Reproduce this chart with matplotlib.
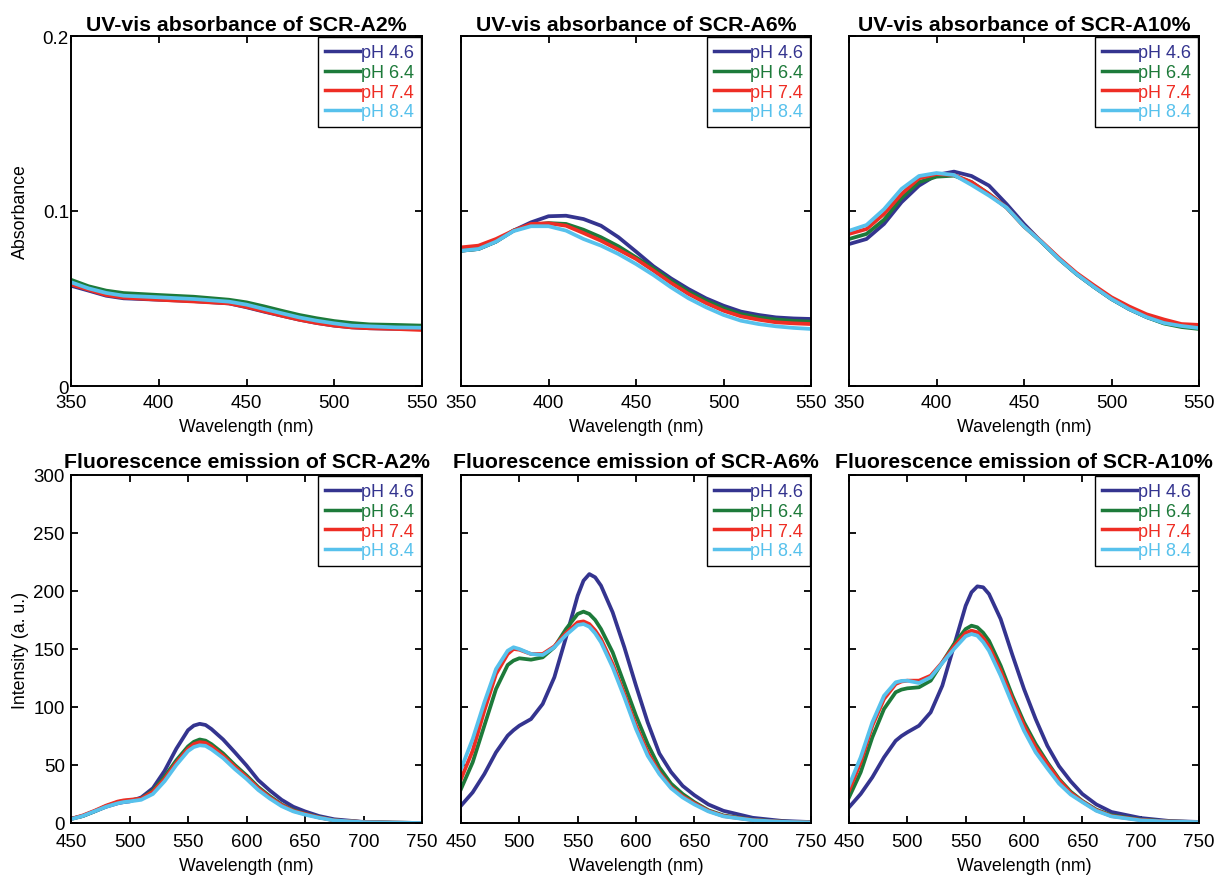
import matplotlib
matplotlib.use("Agg")
import matplotlib.pyplot as plt
from matplotlib.ticker import FixedLocator, FixedFormatter

plt.rcParams['font.family'] = ['Liberation Sans', 'DejaVu Sans']

labels = ["pH 4.6", "pH 6.4", "pH 7.4", "pH 8.4"]
colors = ["#34348f", "#1d7a3a", "#ee2d24", "#57c1ec"]

# ---------- UV-vis absorbance ----------
uv_x1 = [350, 360, 370, 380, 400, 420, 440, 450, 460, 470, 480, 490, 500, 510, 520, 535, 550]
uv_a2_ph46 = [0.0573, 0.0545, 0.0516, 0.0501, 0.0493, 0.0485, 0.0472, 0.0450, 0.0425, 0.0402, 0.0379, 0.0360, 0.0345, 0.0335, 0.0330, 0.0327, 0.0325]
uv_a2_ph64 = [0.0607, 0.0570, 0.0545, 0.0531, 0.0520, 0.0510, 0.0493, 0.0478, 0.0455, 0.0430, 0.0406, 0.0387, 0.0371, 0.0360, 0.0352, 0.0349, 0.0345]
uv_a2_ph74 = [0.0580, 0.0550, 0.0520, 0.0505, 0.0493, 0.0483, 0.0472, 0.0452, 0.0427, 0.0402, 0.0379, 0.0360, 0.0345, 0.0335, 0.0330, 0.0326, 0.0320]
uv_a2_ph84 = [0.0593, 0.0558, 0.0532, 0.0516, 0.0507, 0.0497, 0.0482, 0.0465, 0.0440, 0.0416, 0.0392, 0.0373, 0.0358, 0.0345, 0.0341, 0.0335, 0.0333]

uv_x = [350, 360, 370, 380, 390, 400, 410, 420, 430, 440, 450, 460, 470, 480, 490, 500, 510, 520, 530, 540, 550]
uv_a6_ph46 = [0.0773, 0.0783, 0.0825, 0.0888, 0.0935, 0.0970, 0.0973, 0.0954, 0.0916, 0.0850, 0.0768, 0.0684, 0.0615, 0.0554, 0.0501, 0.0459, 0.0425, 0.0406, 0.0392, 0.0386, 0.0383]
uv_a6_ph64 = [0.0773, 0.0783, 0.0825, 0.0888, 0.0920, 0.0931, 0.0926, 0.0893, 0.0850, 0.0798, 0.0735, 0.0672, 0.0602, 0.0539, 0.0488, 0.0444, 0.0411, 0.0392, 0.0380, 0.0372, 0.0368]
uv_a6_ph74 = [0.0792, 0.0802, 0.0840, 0.0888, 0.0926, 0.0930, 0.0916, 0.0874, 0.0830, 0.0779, 0.0726, 0.0659, 0.0589, 0.0526, 0.0474, 0.0430, 0.0398, 0.0379, 0.0364, 0.0358, 0.0354]
uv_a6_ph84 = [0.0773, 0.0783, 0.0825, 0.0885, 0.0913, 0.0913, 0.0888, 0.0840, 0.0802, 0.0754, 0.0697, 0.0634, 0.0564, 0.0501, 0.0450, 0.0406, 0.0373, 0.0354, 0.0341, 0.0332, 0.0326]

uv_a10_ph46 = [0.0811, 0.0840, 0.0926, 0.1050, 0.1145, 0.1206, 0.1225, 0.1200, 0.1145, 0.1040, 0.0926, 0.0823, 0.0726, 0.0640, 0.0566, 0.0497, 0.0440, 0.0394, 0.0360, 0.0343, 0.0331]
uv_a10_ph64 = [0.0840, 0.0869, 0.0950, 0.1074, 0.1165, 0.1196, 0.1202, 0.1165, 0.1097, 0.1020, 0.0912, 0.0823, 0.0726, 0.0640, 0.0566, 0.0497, 0.0440, 0.0394, 0.0357, 0.0337, 0.0326]
uv_a10_ph74 = [0.0869, 0.0897, 0.0983, 0.1097, 0.1187, 0.1211, 0.1206, 0.1165, 0.1097, 0.1020, 0.0912, 0.0826, 0.0732, 0.0646, 0.0575, 0.0507, 0.0455, 0.0410, 0.0380, 0.0354, 0.0349]
uv_a10_ph84 = [0.0887, 0.0920, 0.1010, 0.1126, 0.1200, 0.1217, 0.1206, 0.1149, 0.1088, 0.1020, 0.0912, 0.0823, 0.0726, 0.0640, 0.0566, 0.0497, 0.0440, 0.0394, 0.0360, 0.0343, 0.0331]

# ---------- Fluorescence emission ----------
fl_x = [450, 460, 470, 480, 490, 495, 500, 510, 520, 530, 540, 550, 555, 560, 565, 570,
        580, 590, 600, 610, 620, 630, 640, 650, 662, 675, 700, 725, 750]
fl_a2_ph46 = [3.7, 6, 10, 14, 17, 18, 18.6, 22, 30, 45, 64, 80, 84, 85.5, 84.5, 81,
              72, 61, 49.6, 37, 28, 20, 14, 10, 6, 3.2, 0.9, 0.3, 0]
fl_a2_ph64 = [3.5, 6, 10, 14.5, 18, 19, 19.5, 21, 28, 40, 54, 66, 70, 72, 71, 68,
              60, 50, 41, 31, 23, 16, 11, 8, 5, 2.3, 0.8, 0.3, 0]
fl_a2_ph74 = [3.5, 6.5, 10.5, 15, 18.5, 19.5, 20, 21, 27, 38, 52, 64, 68, 69.7, 69, 66,
              58, 48.5, 39.6, 30, 22, 15.5, 10.5, 7.8, 4.8, 2.3, 0.8, 0.3, 0]
fl_a2_ph84 = [3.3, 6, 10, 14, 17, 18, 18.6, 20, 25, 36, 50, 62, 65.5, 67, 66.5, 63.5,
              56, 46.5, 38, 28.5, 21, 14.5, 10, 7.2, 4.5, 2.2, 0.7, 0.3, 0]

fl_a6_ph46 = [14.9, 26.4, 42.2, 60.9, 75.3, 80, 83.9, 89.6, 102.6, 125.6, 160, 196, 208.9, 214.6, 211.8, 204.6,
              181.6, 151.5, 118.4, 86.8, 60, 44, 32, 24, 16, 10.5, 4.5, 1.8, 0.8]
fl_a6_ph64 = [29.3, 52.3, 83.9, 115.5, 136.2, 140, 142, 140.8, 142.8, 151.5, 167.2, 180.2, 182.2, 180.2, 175, 167.2,
              147.1, 119.8, 92.5, 68.1, 48, 34, 25, 18, 11, 6.5, 2.8, 1.2, 0.6]
fl_a6_ph74 = [37.9, 62.3, 96.8, 128.4, 145.7, 150, 149.4, 145.7, 145.7, 152.3, 163.8, 173, 173.8, 171.5, 166, 158.6,
              137, 111.2, 83.9, 60.9, 43.7, 31, 23, 17, 10.5, 6, 2.6, 1.1, 0.5]
fl_a6_ph84 = [46.5, 72.4, 104, 132.7, 148.5, 151.5, 150, 145.7, 144.8, 151.5, 162, 170.7, 171.5, 169.2, 163.5, 155.8,
              134.2, 108.4, 81, 58, 42.2, 30, 22, 16, 10, 5.7, 2.4, 1, 0.5]

fl_a10_ph46 = [13.5, 25, 39.4, 56.6, 70.9, 75, 78.2, 83.9, 95.4, 118.4, 152.8, 187.3, 198.9, 204, 203.2, 197.4,
               175.8, 145, 115.5, 89.6, 66.6, 49, 36, 25, 16, 9.5, 4.3, 1.7, 0.9]
fl_a10_ph64 = [22.1, 43.7, 73.9, 98.3, 112.7, 115, 116.1, 117, 122.7, 138.5, 154.3, 167.2, 170.1, 168.7, 164, 157.1,
               135.6, 109.7, 86.8, 68.1, 52.3, 38, 27, 19, 11.5, 6.6, 2.9, 1.3, 0.8]
fl_a10_ph74 = [27.8, 52.3, 83.9, 106.9, 119.8, 122, 122.7, 122.7, 127, 138.5, 152.3, 163.8, 165.8, 164.4, 159.5, 152.3,
               131.3, 106.9, 83.9, 65.3, 50.9, 37, 26, 18.6, 11, 6, 2.6, 1.2, 0.8]
fl_a10_ph84 = [32.2, 56.6, 86.8, 109.7, 121.3, 122.5, 122.7, 120.7, 125.6, 137.9, 150, 161, 162.9, 161.5, 156, 148.5,
               127, 102.6, 79.6, 60.9, 47.1, 34, 24.5, 18, 10.5, 5.7, 2.3, 1.1, 0.8]

uv_xticks = [350, 400, 450, 500, 550]
uv_yticks = [0, 0.1, 0.2]
uv_yticklabels = ["0", "0.1", "0.2"]
fl_xticks = [450, 500, 550, 600, 650, 700, 750]
fl_yticks = [0, 50, 100, 150, 200, 250, 300]

panels = [
    ("UV-vis absorbance of SCR-A2%", uv_x1, [uv_a2_ph46, uv_a2_ph64, uv_a2_ph74, uv_a2_ph84], "uv"),
    ("UV-vis absorbance of SCR-A6%", uv_x, [uv_a6_ph46, uv_a6_ph64, uv_a6_ph74, uv_a6_ph84], "uv"),
    ("UV-vis absorbance of SCR-A10%", uv_x, [uv_a10_ph46, uv_a10_ph64, uv_a10_ph74, uv_a10_ph84], "uv"),
    ("Fluorescence emission of SCR-A2%", fl_x, [fl_a2_ph46, fl_a2_ph64, fl_a2_ph74, fl_a2_ph84], "fl"),
    ("Fluorescence emission of SCR-A6%", fl_x, [fl_a6_ph46, fl_a6_ph64, fl_a6_ph74, fl_a6_ph84], "fl"),
    ("Fluorescence emission of SCR-A10%", fl_x, [fl_a10_ph46, fl_a10_ph64, fl_a10_ph74, fl_a10_ph84], "fl"),
]

W, H = 1217, 878
fig = plt.figure(figsize=(W / 100, H / 100), dpi=100)
lefts = [71, 461, 849]
widths = [351, 350, 350]
rows = [(37, 387), (476, 824)]

for i, (title, x, series, kind) in enumerate(panels):
    r, c = divmod(i, 3)
    top, bot = rows[r]
    ax = fig.add_axes([lefts[c] / W, 1 - bot / H, widths[c] / W, (bot - top) / H])
    for y, col, lab in zip(series, colors, labels):
        ax.plot(x, y, color=col, lw=2.7, label=lab, solid_joinstyle='round')
    if kind == "uv":
        ax.set_xlim(350, 550)
        ax.set_ylim(0, 0.2)
        ax.xaxis.set_major_locator(FixedLocator(uv_xticks))
        ax.yaxis.set_major_locator(FixedLocator(uv_yticks))
        ax.yaxis.set_major_formatter(FixedFormatter(uv_yticklabels))
        if c == 0:
            ax.set_ylabel("Absorbance", fontsize=12.8)
            ax.yaxis.set_label_coords(-0.119, 0.5)
        tpad = 4
        ypad, xpad = 1.5, 6
        xl_y = -0.0914
    else:
        ax.set_xlim(450, 750)
        ax.set_ylim(0, 300)
        ax.xaxis.set_major_locator(FixedLocator(fl_xticks))
        ax.yaxis.set_major_locator(FixedLocator(fl_yticks))
        if c == 0:
            ax.set_ylabel("Intensity (a. u.)", fontsize=12.8)
            ax.yaxis.set_label_coords(-0.119, 0.5)
        tpad = 6
        ypad, xpad = 4.5, 7
        xl_y = -0.0977
    ax.tick_params(direction='in', length=5, width=1.3, top=True, right=True,
                   labelsize=13.5)
    ax.tick_params(axis='y', pad=ypad)
    ax.tick_params(axis='x', pad=xpad)
    if c != 0:
        ax.tick_params(axis='y', labelleft=False)
    ax.set_xlabel("Wavelength (nm)", fontsize=12.8)
    ax.xaxis.set_label_coords(0.5, xl_y)
    ax.set_title(title, fontsize=15.3, fontweight='bold', pad=tpad)
    for sp in ax.spines.values():
        sp.set_linewidth(1.4)
    leg = ax.legend(loc='upper right', fontsize=13, frameon=True, fancybox=False,
                    borderaxespad=0.05, handlelength=1.95, handletextpad=0.05,
                    labelspacing=0.15, borderpad=0.4, framealpha=1)
    leg.get_frame().set_edgecolor('black')
    leg.get_frame().set_linewidth(1.0)
    for txt, col in zip(leg.get_texts(), colors):
        txt.set_color(col)
    for ln in leg.get_lines():
        ln.set_linewidth(2.5)

fig.savefig("out.png", dpi=100)
